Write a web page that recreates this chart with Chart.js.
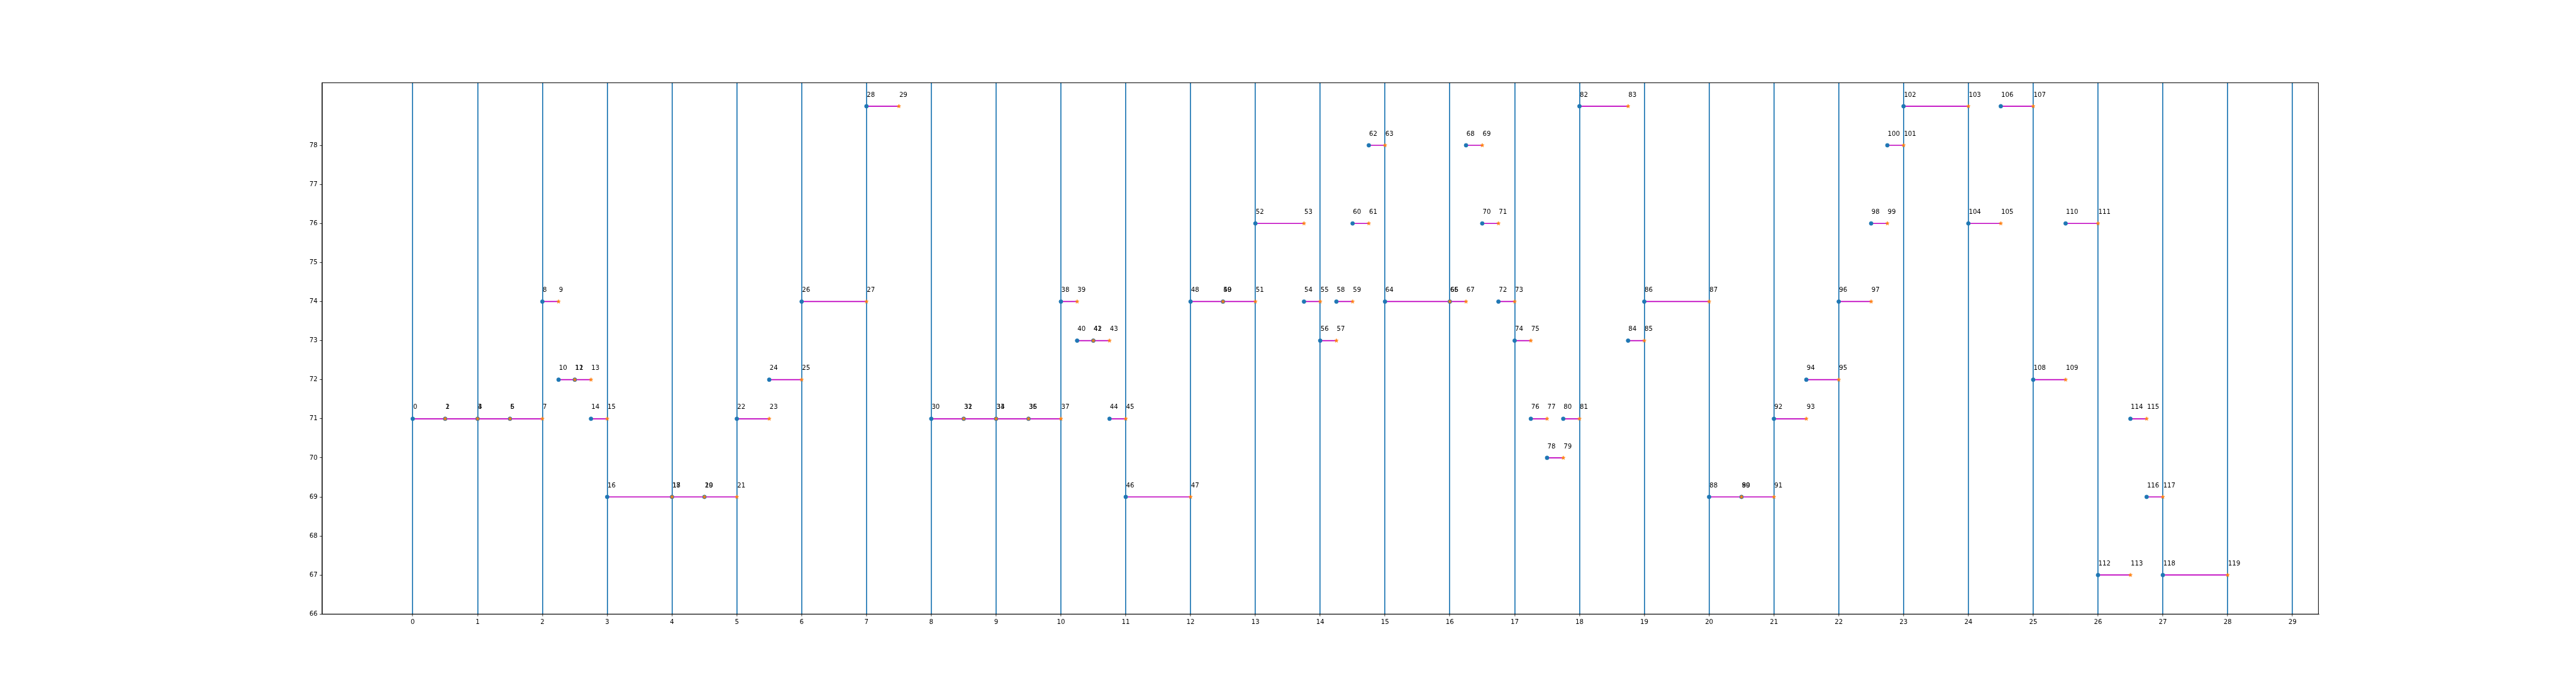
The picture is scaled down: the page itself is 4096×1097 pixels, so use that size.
<!DOCTYPE html>
<html>
<head>
<meta charset="utf-8">
<script src="https://cdn.jsdelivr.net/npm/chart.js@4/dist/chart.umd.min.js"></script>
<style>
  html, body { margin: 0; padding: 0; background: #fff; }
  canvas { display: block; }
</style>
</head>
<body>
<canvas id="c" width="4096" height="1097"></canvas>
<script>
// ---- data ----
const segStart = [0, 0.5, 1, 1.5, 2, 2.25, 2.5, 2.75, 3, 4, 4.5, 5, 5.5, 6, 7,
  8, 8.5, 9, 9.5, 10, 10.25, 10.5, 10.75, 11, 12, 12.5, 13, 13.75, 14, 14.25,
  14.5, 14.75, 15, 16, 16.25, 16.5, 16.75, 17, 17.25, 17.5, 17.75, 18, 18.75, 19, 20,
  20.5, 21, 21.5, 22, 22.5, 22.75, 23, 24, 24.5, 25, 25.5, 26, 26.5, 26.75, 27];
const segEnd = [0.5, 1, 1.5, 2, 2.25, 2.5, 2.75, 3, 4, 4.5, 5, 5.5, 6, 7, 7.5,
  8.5, 9, 9.5, 10, 10.25, 10.5, 10.75, 11, 12, 12.5, 13, 13.75, 14, 14.25, 14.5,
  14.75, 15, 16, 16.25, 16.5, 16.75, 17, 17.25, 17.5, 17.75, 18, 18.75, 19, 20, 20.5,
  21, 21.5, 22, 22.5, 22.75, 23, 24, 24.5, 25, 25.5, 26, 26.5, 26.75, 27, 28];
const segLevel = [71, 71, 71, 71, 74, 72, 72, 71, 69, 69, 69, 71, 72, 74, 79,
  71, 71, 71, 71, 74, 73, 73, 71, 69, 74, 74, 76, 74, 73, 74,
  76, 78, 74, 74, 78, 76, 74, 73, 71, 70, 71, 79, 73, 74, 69,
  69, 71, 72, 74, 76, 78, 79, 76, 79, 72, 76, 67, 71, 69, 67];
const xTicks = [0,1,2,3,4,5,6,7,8,9,10,11,12,13,14,15,16,17,18,19,20,21,22,23,24,25,26,27,28,29];
const yTicks = [66,67,68,69,70,71,72,73,74,75,76,77,78];
const vLines = xTicks;

// ---- derived tables for the library ----
const startPts = segStart.map((x, i) => ({x: x, y: segLevel[i]}));
const endPts = segEnd.map((x, i) => ({x: x, y: segLevel[i]}));
const startLabels = segStart.map((_, i) => String(2 * i));
const endLabels = segEnd.map((_, i) => String(2 * i + 1));
const linePts = [];
segStart.forEach((x, i) => {
  linePts.push({x: x, y: segLevel[i]});
  linePts.push({x: segEnd[i], y: segLevel[i]});
  linePts.push({x: segEnd[i], y: null});
});

const S = 0.731;
const BLUE = '#1f77b4', ORANGE = '#ff7f0e', MAGENTA = '#bf00bf';
const FONT = 'DejaVu Sans';
const fs = 13.9 * S;

function makeStar(color, R) {
  const c = document.createElement('canvas');
  const s = Math.ceil(2 * R + 3);
  c.width = s; c.height = s;
  const g = c.getContext('2d');
  const cx = s / 2, cy = s / 2, r = R * 0.381966;
  g.beginPath();
  for (let k = 0; k < 10; k++) {
    const a = -Math.PI / 2 + k * Math.PI / 5;
    const rr = (k % 2 === 0) ? R : r;
    const px = cx + rr * Math.cos(a), py = cy + rr * Math.sin(a);
    if (k === 0) g.moveTo(px, py); else g.lineTo(px, py);
  }
  g.closePath();
  g.fillStyle = color; g.fill();
  g.lineWidth = 0.7; g.strokeStyle = color; g.lineJoin = 'miter'; g.stroke();
  return c;
}
const starImg = makeStar(ORANGE, 4.3 * S);

const frame = {
  id: 'frame',
  afterDraw(chart) {
    const {ctx, chartArea: a} = chart;
    ctx.save();
    ctx.strokeStyle = '#000';
    ctx.lineWidth = 1;
    ctx.strokeRect(a.left, a.top, a.right - a.left, a.bottom - a.top);
    ctx.restore();
  }
};

const pointText = {
  id: 'pointText',
  afterDatasetsDraw(chart) {
    const ctx = chart.ctx;
    ctx.save();
    ctx.font = fs + 'px "' + FONT + '"';
    ctx.fillStyle = '#000';
    ctx.textAlign = 'left';
    ctx.textBaseline = 'alphabetic';
    const items = [];
    chart.data.datasets.forEach((ds, di) => {
      if (!ds.pointLabels) return;
      chart.getDatasetMeta(di).data.forEach((el, j) => {
        items.push({n: +ds.pointLabels[j], x: el.x, y: el.y, t: ds.pointLabels[j]});
      });
    });
    items.sort((p, q) => p.n - q.n);
    items.forEach(p => ctx.fillText(p.t, p.x + 0.6, p.y - 21 * S));
    ctx.restore();
  }
};

new Chart(document.getElementById('c'), {
  type: 'scatter',
  data: {
    datasets: [
      {
        label: 'segments', data: linePts, showLine: true, spanGaps: false,
        borderColor: MAGENTA, borderWidth: 1.7, pointRadius: 0,
        pointHoverRadius: 0, order: 3
      },
      {
        label: 'start', data: startPts, pointLabels: startLabels,
        pointStyle: 'circle', pointRadius: 4.2 * S, borderWidth: 1.0 * S,
        backgroundColor: BLUE, borderColor: BLUE, order: 2
      },
      {
        label: 'end', data: endPts, pointLabels: endLabels,
        pointStyle: starImg, pointRadius: 4.2 * S,
        backgroundColor: ORANGE, borderColor: ORANGE, order: 1
      }
    ]
  },
  options: {
    responsive: false,
    animation: false,
    events: [],
    layout: { padding: { left: 0, right: 4096 - 0.9 * 4096, top: 0.12 * 1097, bottom: 0 } },
    plugins: { legend: { display: false }, tooltip: { enabled: false } },
    scales: {
      x: {
        type: 'linear', min: -1.4, max: 29.4,
        afterBuildTicks: (s) => { s.ticks = vLines.map(v => ({value: v})); },
        afterFit: (s) => { s.height = 1097 - 0.89 * 1097; },
        grid: {
          display: true, drawOnChartArea: true, drawTicks: true,
          color: BLUE, lineWidth: 1.7,
          tickColor: '#000', tickWidth: 0.8, tickLength: 3.5 * 1.389 * S
        },
        border: { display: true, color: '#000', width: 1 },
        ticks: {
          color: '#000', padding: 3.5 * 1.389 * S, maxRotation: 0, autoSkip: false,
          font: { family: FONT, size: fs },
          callback: (v) => String(v)
        }
      },
      y: {
        type: 'linear', min: 66, max: 79.6,
        afterBuildTicks: (s) => { s.ticks = yTicks.map(v => ({value: v})); },
        afterFit: (s) => { s.width = 0.125 * 4096; },
        grid: {
          display: true, drawOnChartArea: false, drawTicks: true,
          tickColor: '#000', tickWidth: 0.8, tickLength: 3.5 * 1.389 * S
        },
        border: { display: true, color: '#000', width: 1 },
        ticks: {
          color: '#000', padding: 3.5 * 1.389 * S, autoSkip: false,
          font: { family: FONT, size: fs },
          callback: (v) => String(v)
        }
      }
    }
  },
  plugins: [frame, pointText]
});
</script>
</body>
</html>
